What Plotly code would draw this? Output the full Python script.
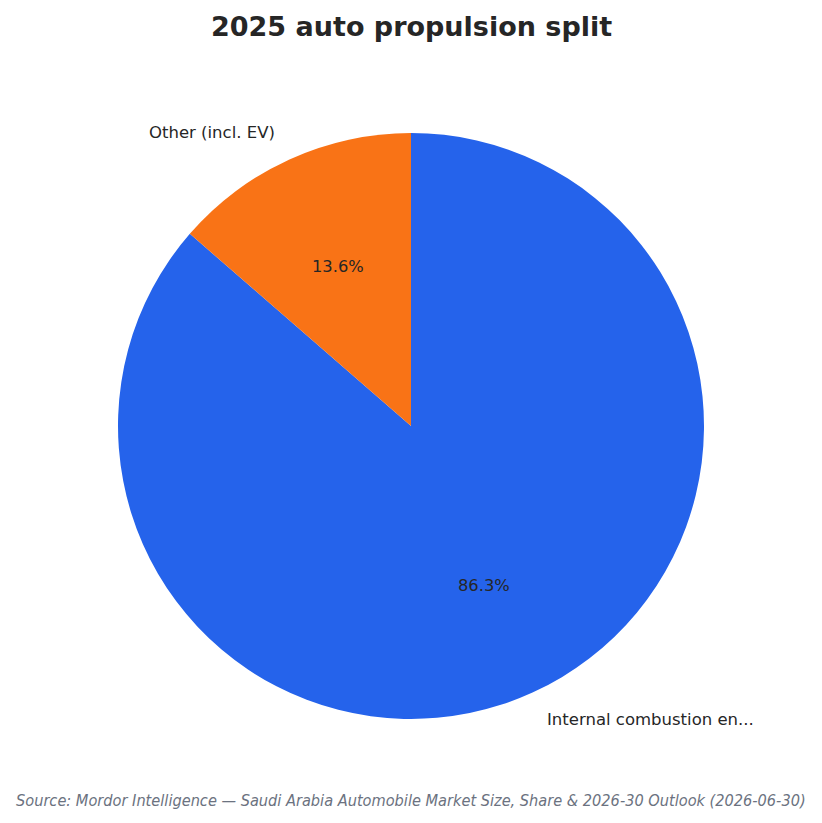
import math
import plotly.graph_objects as go

labels = ["Internal combustion en...", "Other (incl. EV)"]
values = [86.3, 13.6]
colors = ["#2563EB", "#F97316"]
title_text = "2025 auto propulsion split"
source_text = "Source: Mordor Intelligence \u2014 Saudi Arabia Automobile Market Size, Share & 2026-30 Outlook (2026-06-30)"

W, H = 822, 823
cx, cy, R = 411, 426, 293  # pie center/radius in pixels (from top)

fig = go.Figure()
fig.add_trace(go.Pie(
    labels=labels, values=values, sort=False, direction="clockwise", rotation=0,
    marker=dict(colors=colors, line=dict(width=0)),
    textinfo="none", hoverinfo="label+percent", showlegend=False,
    domain=dict(x=[(cx - R) / W, (cx + R) / W], y=[(H - cy - R) / H, (H - cy + R) / H]),
))

total = sum(values)
ann = []
start = 90.0
for lab, v in zip(labels, values):
    frac = v / total
    mid = start - frac * 360 / 2
    start -= frac * 360
    a = math.radians(mid)
    px = cx + 0.6 * R * math.cos(a)
    py = cy - 0.6 * R * math.sin(a)
    ann.append(dict(x=px / W, y=1 - py / H, xref="paper", yref="paper", text=f"{v:.1f}%",
                    showarrow=False, xanchor="center", yanchor="middle",
                    font=dict(family="DejaVu Sans", size=16.3, color="#262626")))
    lx = cx + 1.1 * R * math.cos(a)
    ly = cy - 1.1 * R * math.sin(a)
    ann.append(dict(x=lx / W, y=1 - ly / H, xref="paper", yref="paper", text=lab,
                    showarrow=False, xanchor="left" if math.cos(a) > 0 else "right", yanchor="middle",
                    font=dict(family="DejaVu Sans", size=16.5, color="#262626")))

ann.append(dict(x=0.5, y=1 - 27 / H, xref="paper", yref="paper", text=f"<b>{title_text}</b>",
                showarrow=False, xanchor="center", yanchor="middle",
                font=dict(family="DejaVu Sans", size=27, color="#262626")))
ann.append(dict(x=0.5, y=1 - 800 / H, xref="paper", yref="paper", text=f"<i>{source_text}</i>",
                showarrow=False, xanchor="center", yanchor="middle",
                font=dict(family="DejaVu Sans Condensed", size=16.2, color="#6B7280")))

fig.update_layout(
    width=W, height=H, margin=dict(l=0, r=0, t=0, b=0),
    paper_bgcolor="white", plot_bgcolor="white", annotations=ann,
)
fig.write_html("out.html")
